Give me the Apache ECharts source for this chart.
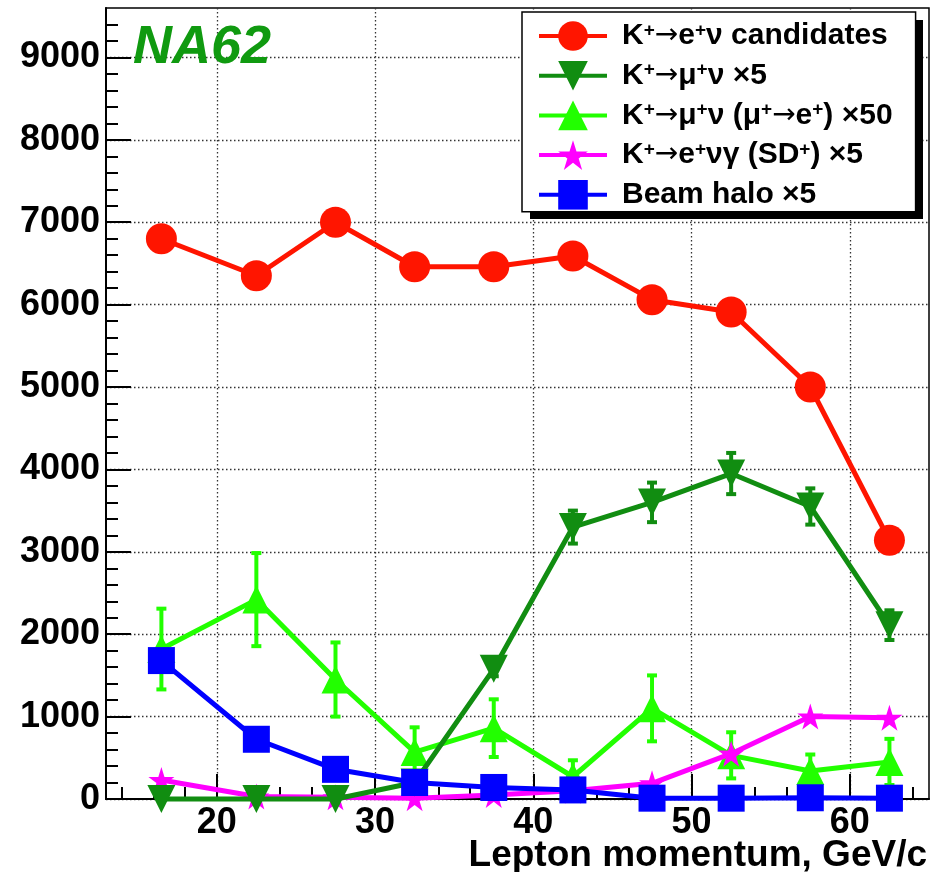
<!DOCTYPE html>
<html><head><meta charset="utf-8">
<script src="https://cdn.jsdelivr.net/npm/echarts@6/dist/echarts.min.js"></script>
<style>html,body{margin:0;padding:0;background:#fff}#chart{width:941px;height:872px}</style>
</head><body><div id="chart"></div>
<script>
// ---- data ----
const momentum = [16.5, 22.5, 27.5, 32.5, 37.5, 42.5, 47.5, 52.5, 57.5, 62.5];
const kenuCandidates = [6800, 6350, 7000, 6460, 6460, 6590, 6060, 5910, 5000, 3140];
const kmunuX5 = [0, 0, 0, 200, 1580, 3300, 3600, 3950, 3550, 2110];
const kmunuX5Err = [0, 0, 0, 60, 90, 200, 240, 250, 220, 180];
const kmunuDecayX50 = [1820, 2420, 1450, 570, 860, 270, 1100, 530, 340, 450];
const kmunuDecayX50Err = [490, 565, 450, 300, 350, 200, 400, 280, 200, 280];
const kenugSDX5 = [230, 30, 20, 10, 50, 100, 190, 550, 1000, 985];
const beamHaloX5 = [1680, 725, 360, 200, 140, 110, 10, 10, 15, 10];

const seriesNames = ['kenu', 'kmunu', 'kmunuDecay', 'kenug', 'halo'];
const legendLabels = [
  'K{s|+}{a|→}e{s|+}ν candidates',
  'K{s|+}{a|→}μ{s|+}ν ×5',
  'K{s|+}{a|→}μ{s|+}ν (μ{s|+}{a|→}e{s|+}) ×50',
  'K{s|+}{a|→}e{s|+}νγ (SD{s|+}) ×5',
  'Beam halo ×5'
];
const xAxisTitle = 'Lepton momentum, GeV/c';
const experimentLabel = 'NA62';

const xMajorTicks = [20, 30, 40, 50, 60];
const xMinorTicks = [14, 16, 18, 22, 24, 26, 28, 32, 34, 36, 38, 42, 44, 46, 48, 52, 54, 56, 58, 62, 64];
const yMajorTicks = [0, 1000, 2000, 3000, 4000, 5000, 6000, 7000, 8000, 9000];
const yMinorTicks = [200, 400, 600, 800, 1200, 1400, 1600, 1800, 2200, 2400, 2600, 2800,
  3200, 3400, 3600, 3800, 4200, 4400, 4600, 4800, 5200, 5400, 5600, 5800,
  6200, 6400, 6600, 6800, 7200, 7400, 7600, 7800, 8200, 8400, 8600, 8800, 9200, 9400];

// ---- styling ----
const FONT = 'Liberation Sans';
const C_RED = '#ff1500', C_DGREEN = '#118d11', C_LGREEN = '#22ff00', C_MAG = '#ff00ff', C_BLUE = '#0000ff';
const STAR = 'path://M50,0 L61.8,35.3 L100,35.3 L69.1,57.1 L80.9,92.7 L50,70.6 L19.1,92.7 L30.9,57.1 L0,35.3 L38.2,35.3 Z';

function pairs(ys) { return momentum.map((x, i) => [x, ys[i]]); }
function errData(ys, es) { return momentum.map((x, i) => [x, ys[i] - es[i], ys[i] + es[i], es[i]]); }
function errRender(color) {
  return function (params, api) {
    if (!api.value(3)) return null;
    const x = api.value(0);
    const a = api.coord([x, api.value(2)]);
    const b = api.coord([x, api.value(1)]);
    const cap = 5, st = { stroke: color, lineWidth: 4 };
    return { type: 'group', children: [
      { type: 'line', shape: { x1: a[0], y1: a[1], x2: b[0], y2: b[1] }, style: st },
      { type: 'line', shape: { x1: a[0] - cap, y1: a[1], x2: a[0] + cap, y2: a[1] }, style: st },
      { type: 'line', shape: { x1: b[0] - cap, y1: b[1], x2: b[0] + cap, y2: b[1] }, style: st }
    ] };
  };
}
function lineSeries(name, ys, color, symbol, size, z, rotate) {
  return {
    type: 'line', name: name, data: pairs(ys), xAxisIndex: 0, yAxisIndex: 0,
    symbol: symbol, symbolSize: size, symbolRotate: rotate || 0, showAllSymbol: true,
    clip: false, z: z,
    lineStyle: { color: color, width: 5 }, itemStyle: { color: color },
    emphasis: { disabled: true }, animation: false
  };
}
function errSeries(name, ys, es, color, z) {
  return {
    type: 'custom', name: name, data: errData(ys, es), xAxisIndex: 0, yAxisIndex: 0,
    encode: { x: 0, y: [1, 2] }, renderItem: errRender(color), z: z, clip: false, silent: true, animation: false
  };
}
const plainLabel = v => String(v);

const chart = echarts.init(document.getElementById('chart'), null, { renderer: 'canvas' });
chart.setOption({
  backgroundColor: '#fff',
  animation: false,
  title: {
    text: experimentLabel, left: 128, top: 16,
    textStyle: { fontFamily: FONT, fontSize: 54, fontWeight: 'bold', fontStyle: 'italic', color: '#109a10' }
  },
  graphic: [
    { type: 'rect', z: 1, shape: { x: 530, y: 20, width: 393, height: 199 }, style: { fill: '#000' }, silent: true },
    { type: 'text', right: 14, top: 837, z: 5,
      style: { text: xAxisTitle, font: 'bold 37px "Liberation Sans"', fill: '#000' } }
  ],
  grid: {
    left: 106, right: 12, top: 8, bottom: 73, containLabel: false, outerBoundsMode: 'none',
    show: true, borderColor: '#000', borderWidth: 1.5, backgroundColor: 'transparent'
  },
  legend: {
    data: seriesNames, orient: 'vertical', left: 522, top: 12, z: 3,
    itemWidth: 68, itemHeight: 37, itemGap: 9.7,
    padding: [9, 23, 2, 15],
    backgroundColor: '#fff', borderColor: '#000', borderWidth: 1.5,
    lineStyle: { width: 4 },
    selectedMode: false,
    formatter: function (name) { return legendLabels[seriesNames.indexOf(name)]; },
    textStyle: {
      fontFamily: FONT, fontSize: 30, fontWeight: 'bold', color: '#000', padding: [0, 0, 0, 10], lineHeight: 30,
      rich: {
        s: { fontFamily: FONT, fontSize: 19, fontWeight: 'bold', color: '#000', lineHeight: 4, verticalAlign: 'top' },
        a: { fontFamily: 'DejaVu Sans', fontSize: 28, fontWeight: 'normal', color: '#000', lineHeight: 30 }
      }
    }
  },
  xAxis: [{
    type: 'value', min: 13, max: 65, position: 'bottom',
    axisLine: { show: true, onZero: false, lineStyle: { color: '#000', width: 2 } },
    axisTick: { show: true, inside: true, length: 25, customValues: xMajorTicks, lineStyle: { color: '#000', width: 2 } },
    axisLabel: { show: true, customValues: xMajorTicks, formatter: plainLabel, margin: 6, fontFamily: FONT, fontSize: 36, fontWeight: 'bold', color: '#000' },
    splitLine: { show: true, lineStyle: { color: '#333', width: 1.3, type: [1.5, 2.5] } }
  }, {
    type: 'value', min: 13, max: 65, position: 'bottom', gridIndex: 0,
    axisLine: { show: false, onZero: false },
    axisTick: { show: true, inside: true, length: 12, customValues: xMinorTicks, lineStyle: { color: '#000', width: 2 } },
    axisLabel: { show: false }, splitLine: { show: false }
  }],
  yAxis: [{
    type: 'value', min: 0, max: 9600, position: 'left',
    axisLine: { show: true, onZero: false, lineStyle: { color: '#000', width: 2 } },
    axisTick: { show: true, inside: true, length: 25, customValues: yMajorTicks, lineStyle: { color: '#000', width: 2 } },
    axisLabel: { show: true, customValues: yMajorTicks, formatter: plainLabel, margin: 6, fontFamily: FONT, fontSize: 36, fontWeight: 'bold', color: '#000' },
    splitLine: { show: true, lineStyle: { color: '#333', width: 1.3, type: [1.5, 2.5] } }
  }, {
    type: 'value', min: 0, max: 9600, position: 'left', gridIndex: 0,
    axisLine: { show: false, onZero: false },
    axisTick: { show: true, inside: true, length: 12, customValues: yMinorTicks, lineStyle: { color: '#000', width: 2 } },
    axisLabel: { show: false }, splitLine: { show: false }
  }],
  series: [
    errSeries('errDecay', kmunuDecayX50, kmunuDecayX50Err, C_LGREEN, 3),
    lineSeries('kmunuDecay', kmunuDecayX50, C_LGREEN, 'triangle', 28, 4),
    lineSeries('kenug', kenugSDX5, C_MAG, STAR, 26, 5),
    errSeries('errMunu', kmunuX5, kmunuX5Err, C_DGREEN, 6),
    lineSeries('kmunu', kmunuX5, C_DGREEN, 'triangle', 28, 7, 180),
    lineSeries('halo', beamHaloX5, C_BLUE, 'rect', 27, 8),
    lineSeries('kenu', kenuCandidates, C_RED, 'circle', 31, 9)
  ]
});
</script>
</body></html>
